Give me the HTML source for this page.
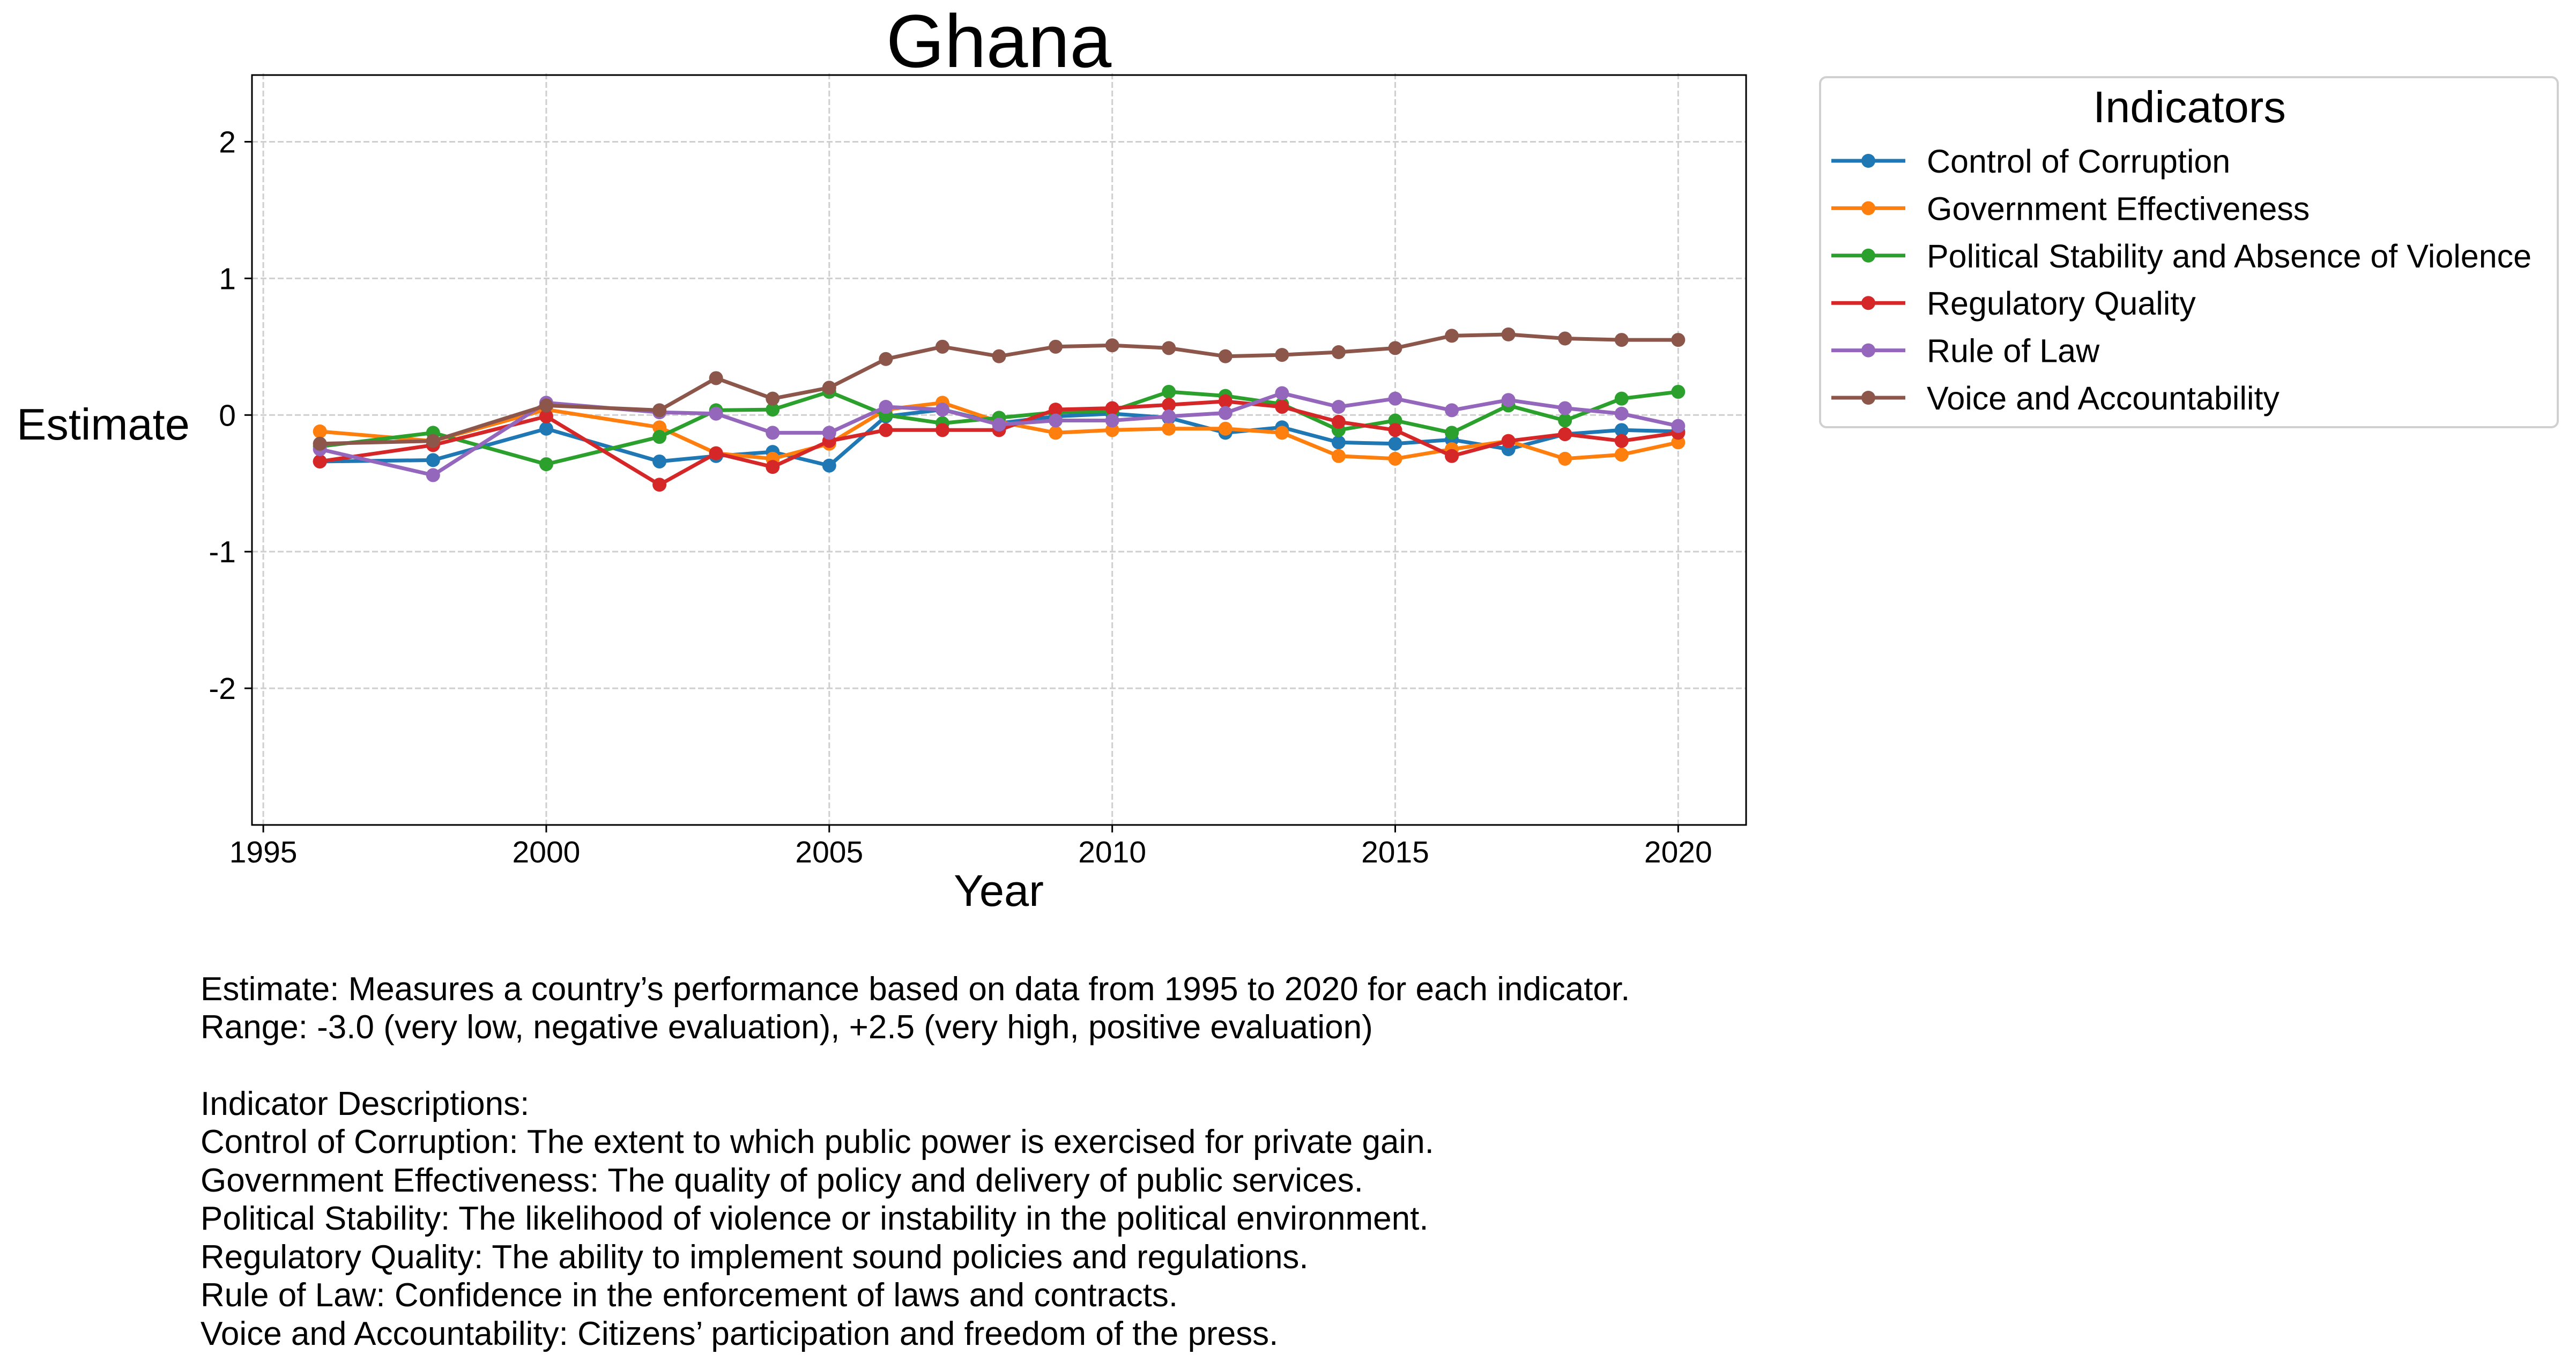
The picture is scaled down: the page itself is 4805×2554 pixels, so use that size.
<!DOCTYPE html>
<html><head><meta charset="utf-8"><style>
html,body{margin:0;padding:0;background:#fff;}
svg{display:block;font-family:"Liberation Sans",sans-serif;}
</style></head><body>
<svg id="chart" width="4805" height="2554" viewBox="0 0 4805 2554">
<rect x="0" y="0" width="4805" height="2554" fill="#fff"/>
<text x="1863" y="125" font-size="140" text-anchor="middle">Ghana</text>
<g id="grid"></g>
<g id="series"></g>
<rect x="470" y="140" width="2787" height="1399" fill="none" stroke="#000" stroke-width="3"/>
<g id="ticks"></g>
<text x="1863" y="1690" font-size="83" text-anchor="middle">Year</text>
<text x="31" y="820" font-size="83">Estimate</text>
<g id="legend">
<rect x="3395" y="144" width="1376" height="653" rx="12" fill="#fff" stroke="#d0d0d0" stroke-width="4"/>
<text x="4084" y="228" font-size="83" text-anchor="middle">Indicators</text>
</g>
<g font-size="62">
<text x="374" y="1866">Estimate: Measures a country’s performance based on data from 1995 to 2020 for each indicator.</text>
<text x="374" y="1937">Range: -3.0 (very low, negative evaluation), +2.5 (very high, positive evaluation)</text>
<text x="374" y="2080">Indicator Descriptions:</text>
<text x="374" y="2151">Control of Corruption: The extent to which public power is exercised for private gain.</text>
<text x="374" y="2223">Government Effectiveness: The quality of policy and delivery of public services.</text>
<text x="374" y="2294">Political Stability: The likelihood of violence or instability in the political environment.</text>
<text x="374" y="2366">Regulatory Quality: The ability to implement sound policies and regulations.</text>
<text x="374" y="2437">Rule of Law: Confidence in the enforcement of laws and contracts.</text>
<text x="374" y="2509">Voice and Accountability: Citizens’ participation and freedom of the press.</text>
</g>
</svg>
<script>
const years = [1996,1998,2000,2002,2003,2004,2005,2006,2007,2008,2009,2010,2011,2012,2013,2014,2015,2016,2017,2018,2019,2020];
const seriesNames = ["Control of Corruption","Government Effectiveness","Political Stability and Absence of Violence","Regulatory Quality","Rule of Law","Voice and Accountability"];
const seriesColors = ["#1f77b4","#ff7f0e","#2ca02c","#d62728","#9467bd","#8c564b"];
const controlOfCorruption = [-0.34,-0.33,-0.10,-0.34,-0.30,-0.27,-0.37,-0.01,0.04,-0.06,-0.01,0.01,-0.02,-0.13,-0.09,-0.20,-0.21,-0.18,-0.25,-0.14,-0.11,-0.12];
const governmentEffectiveness = [-0.12,-0.19,0.04,-0.09,-0.28,-0.32,-0.21,0.04,0.09,-0.05,-0.13,-0.11,-0.10,-0.10,-0.13,-0.30,-0.32,-0.25,-0.19,-0.32,-0.29,-0.20];
const politicalStability = [-0.23,-0.13,-0.36,-0.16,0.035,0.04,0.17,0.00,-0.06,-0.02,0.02,0.03,0.17,0.14,0.08,-0.11,-0.04,-0.13,0.07,-0.04,0.12,0.17];
const regulatoryQuality = [-0.34,-0.22,-0.01,-0.51,-0.28,-0.38,-0.19,-0.11,-0.11,-0.11,0.04,0.05,0.075,0.10,0.06,-0.05,-0.11,-0.30,-0.19,-0.14,-0.19,-0.13];
const ruleOfLaw = [-0.25,-0.44,0.09,0.02,0.01,-0.13,-0.13,0.06,0.04,-0.07,-0.04,-0.04,-0.01,0.015,0.16,0.06,0.12,0.035,0.11,0.05,0.01,-0.08];
const voiceAccountability = [-0.21,-0.19,0.07,0.035,0.27,0.12,0.20,0.41,0.50,0.43,0.50,0.51,0.49,0.43,0.44,0.46,0.49,0.58,0.59,0.56,0.55,0.55];
const xTicks = [1995,2000,2005,2010,2015,2020];
const yTicks = [-2,-1,0,1,2];
const yTickLabels = ["-2","-1","0","1","2"];

const NS = "http://www.w3.org/2000/svg";
const X0 = 470, X1 = 3257, Y0 = 137, Y1 = 1539;
const xMin = 1994.8, xMax = 2021.2, yMin = -3, yMax = 2.5;
function xs(v){ return X0 + (v - xMin) / (xMax - xMin) * (X1 - X0); }
function ys(v){ return Y1 - (v - yMin) / (yMax - yMin) * (Y1 - Y0); }
function mk(tag, attrs, parent){ const e = document.createElementNS(NS, tag); for (const k in attrs) e.setAttribute(k, attrs[k]); parent.appendChild(e); return e; }

const grid = document.getElementById('grid');
const ticks = document.getElementById('ticks');
xTicks.forEach(t => {
  const g = mk('line', {x1: xs(t), x2: xs(t), y1: Y0, y2: Y1, stroke: '#cfcfcf', 'stroke-width': 3, 'stroke-dasharray': '11 5'}, grid);
  
  
  const tk = mk('line', {x1: xs(t), x2: xs(t), y1: Y1, y2: Y1 + 14, stroke: '#000', 'stroke-width': 3}, ticks);
  
  
  const lb = mk('text', {x: xs(t), y: Y1 + 70, 'font-size': 57, 'text-anchor': 'middle'}, ticks);
  lb.textContent = t;
  
  
});
yTicks.forEach((t, i) => {
  const g = mk('line', {x1: X0, x2: X1, y1: ys(t), y2: ys(t), stroke: '#cfcfcf', 'stroke-width': 3, 'stroke-dasharray': '11 5'}, grid);
  
  
  const tk = mk('line', {x1: X0 - 14, x2: X0, y1: ys(t), y2: ys(t), stroke: '#000', 'stroke-width': 3}, ticks);
  
  
  const lb = mk('text', {x: X0 - 30, y: ys(t) + 20, 'font-size': 57, 'text-anchor': 'end'}, ticks);
  lb.textContent = yTickLabels[i];
  
  
});

const allSeries = [controlOfCorruption, governmentEffectiveness, politicalStability, regulatoryQuality, ruleOfLaw, voiceAccountability];
const sg = document.getElementById('series');
allSeries.forEach((vals, si) => {
  const g = mk('g', {}, sg);
  
  
  const pts = vals.map((v, i) => xs(years[i]).toFixed(1) + ',' + ys(v).toFixed(1)).join(' ');
  const pl = mk('polyline', {points: pts, fill: 'none', stroke: seriesColors[si], 'stroke-width': 7, 'stroke-linejoin': 'round', 'stroke-linecap': 'square'}, g);
  
  
  vals.forEach((v, i) => {
    const c = mk('circle', {cx: xs(years[i]), cy: ys(v), r: 13, fill: seriesColors[si]}, g);
    
    
  });
});

const lg = document.getElementById('legend');
seriesNames.forEach((n, i) => {
  const y = 300 + i * 88.4;
  const l = mk('line', {x1: 3416, x2: 3554, y1: y, y2: y, stroke: seriesColors[i], 'stroke-width': 7}, lg);
  
  
  const c = mk('circle', {cx: 3485, cy: y, r: 13, fill: seriesColors[i]}, lg);
  
  
  const t = mk('text', {x: 3594, y: y + 22, 'font-size': 61}, lg);
  t.textContent = n;
  
  
});
</script>
</body></html>
